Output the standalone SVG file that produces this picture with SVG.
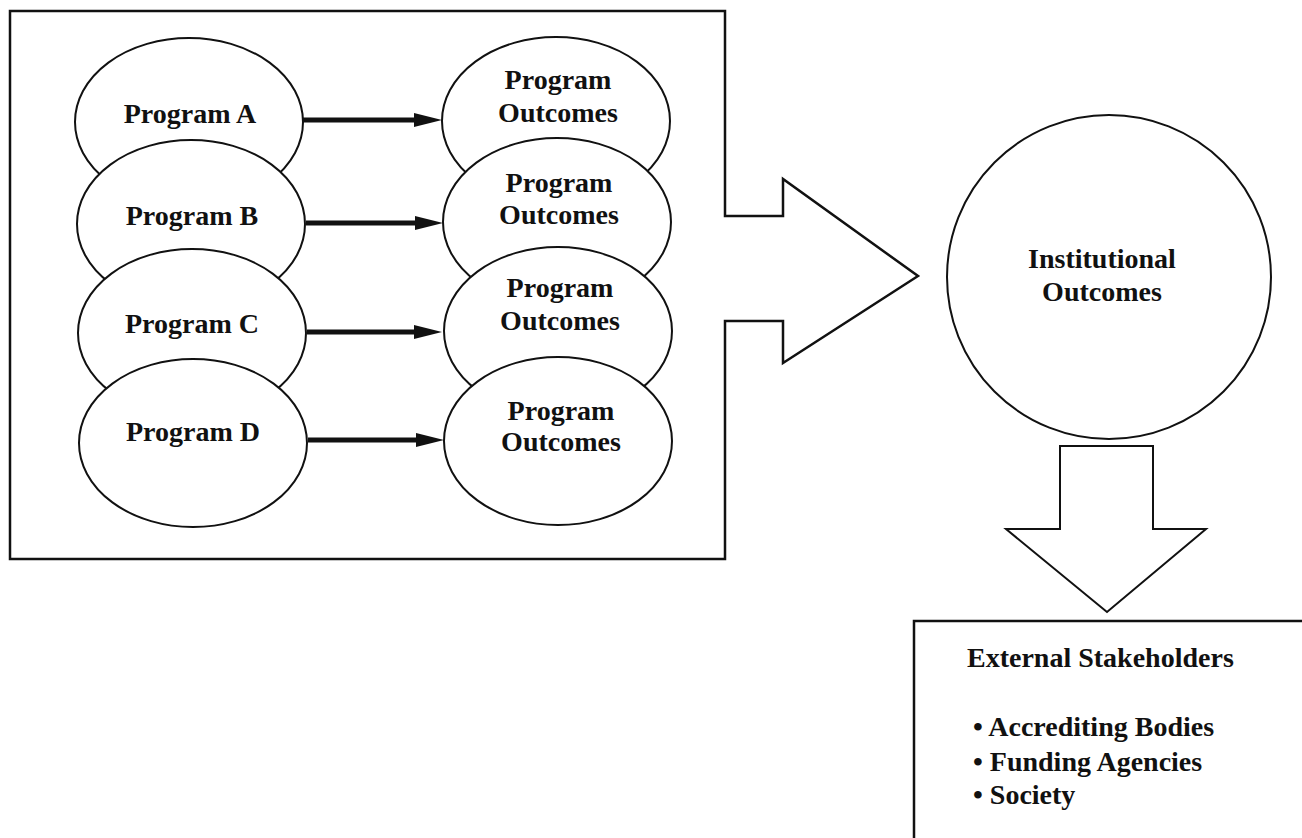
<svg xmlns="http://www.w3.org/2000/svg" width="1302" height="838" viewBox="0 0 1302 838">
  <style>
    .shape { fill: #ffffff; stroke: #111111; stroke-width: 2; }
    .frame { fill: none; stroke: #111111; stroke-width: 2.5; }
    .lbl { font-family: "Liberation Serif", "Times New Roman", serif; font-weight: bold; font-size: 28px; fill: #111111; text-anchor: middle; }
    .lbl-l { font-family: "Liberation Serif", "Times New Roman", serif; font-weight: bold; font-size: 28px; fill: #111111; }
    .conn { stroke: #111111; stroke-width: 5; fill: none; marker-end: url(#head); }
  </style>
  <defs>
    <marker id="head" markerUnits="userSpaceOnUse" markerWidth="28" markerHeight="14" refX="6" refY="7" orient="auto">
      <path d="M0,0 L28,7 L0,14 Z" fill="#111111"/>
    </marker>
  </defs>
  <rect width="1302" height="838" fill="#ffffff"/>

  <g id="programs-frame">
    <path class="frame" d="M10,11 H725 V216 H783 V179 L918,276 L783,363 V321 H725 V559 H10 Z"/>
  </g>

  <g id="program-a">
    <ellipse class="shape" cx="189" cy="122" rx="114" ry="84"/>
    <text class="lbl" x="190" y="123">Program A</text>
  </g>
  <g id="program-b">
    <ellipse class="shape" cx="191" cy="224" rx="114" ry="84"/>
    <text class="lbl" x="192" y="225">Program B</text>
  </g>
  <g id="program-c">
    <ellipse class="shape" cx="192" cy="333" rx="114" ry="84"/>
    <text class="lbl" x="192" y="333">Program C</text>
  </g>
  <g id="program-d">
    <ellipse class="shape" cx="193" cy="443" rx="114" ry="84"/>
    <text class="lbl" x="193" y="441">Program D</text>
  </g>

  <g id="outcomes-a">
    <ellipse class="shape" cx="556" cy="121" rx="114" ry="84"/>
    <text class="lbl" x="558" y="89">Program</text>
    <text class="lbl" x="558" y="122">Outcomes</text>
  </g>
  <g id="outcomes-b">
    <ellipse class="shape" cx="557" cy="222" rx="114" ry="84"/>
    <text class="lbl" x="559" y="192">Program</text>
    <text class="lbl" x="559" y="224">Outcomes</text>
  </g>
  <g id="outcomes-c">
    <ellipse class="shape" cx="558" cy="331" rx="114" ry="84"/>
    <text class="lbl" x="560" y="297">Program</text>
    <text class="lbl" x="560" y="330">Outcomes</text>
  </g>
  <g id="outcomes-d">
    <ellipse class="shape" cx="558" cy="441" rx="114" ry="84"/>
    <text class="lbl" x="561" y="420">Program</text>
    <text class="lbl" x="561" y="451">Outcomes</text>
  </g>

  <g id="connectors">
    <line class="conn" x1="303" y1="120" x2="420" y2="120"/>
    <line class="conn" x1="306" y1="223" x2="421" y2="223"/>
    <line class="conn" x1="307" y1="332" x2="420" y2="332"/>
    <line class="conn" x1="308" y1="440" x2="422" y2="440"/>
  </g>

  <g id="institutional-outcomes">
    <circle class="shape" cx="1109" cy="277" r="162"/>
    <text class="lbl" x="1102" y="268">Institutional</text>
    <text class="lbl" x="1102" y="301">Outcomes</text>
  </g>

  <g id="down-arrow">
    <path class="shape" d="M1060,446 H1153 V529 H1206 L1107,612 L1006,529 H1060 Z"/>
  </g>

  <g id="external-stakeholders">
    <rect class="frame" x="914" y="621" width="420" height="260"/>
    <text class="lbl-l" x="967" y="667" font-size="27">External Stakeholders</text>
    <text class="lbl-l" x="973" y="736">• Accrediting Bodies</text>
    <text class="lbl-l" x="973" y="771">• Funding Agencies</text>
    <text class="lbl-l" x="973" y="804">• Society</text>
  </g>
</svg>
